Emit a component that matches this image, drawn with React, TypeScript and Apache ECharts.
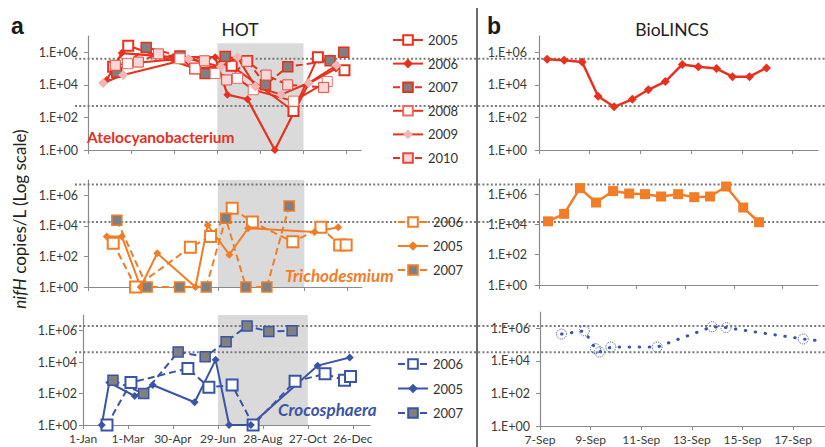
import React, { useEffect, useRef } from 'react';
import * as echarts from 'echarts';

// ---------- tick definitions ----------
const hotTickDays = [0, 60, 120, 180, 240, 300, 360];
const hotTickLabels = ['1-Jan', '1-Mar', '30-Apr', '29-Jun', '28-Aug', '27-Oct', '26-Dec'];
const bioTickDays = [0, 2, 4, 6, 8, 10];
const bioTickLabels = ['7-Sep', '9-Sep', '11-Sep', '13-Sep', '15-Sep', '17-Sep'];
const logTicks = [0, 2, 4, 6];
const logTickLabels = ['1.E+00', '1.E+02', '1.E+04', '1.E+06'];
const shadeDays = [180, 300];

// ---------- HOT: Atelocyanobacterium  [day of year, nifH copies/L] ----------
const ucyn2005 = [[35, 1.3e5], [56, 2.5e6], [149, 1e5], [200, 1.5e5], [286, 2.5e2], [320, 5e5], [357, 8e4]];
const ucyn2006 = [[26, 2e4], [47, 9e5], [118, 5e5], [177, 5e5], [194, 2.5e3], [222, 1.3e3], [260, 1], [307, 1.2e4], [345, 1e5]];
const ucyn2007 = [[40, 6e4], [81, 2e6], [128, 6e5], [163, 5e4], [191, 5.6e5], [222, 3e5], [247, 1e4], [278, 1.3e5], [337, 3e5], [356, 1e6]];
const ucyn2008 = [[55, 2e5], [128, 4e5], [149, 1e5], [177, 5e4], [208, 2.5e4], [230, 5e3], [286, 1e3], [333, 1.6e4]];
const ucyn2009 = [[21, 1.3e4], [49, 4e4], [140, 4e5], [185, 1.3e5], [208, 5e5], [233, 8e3], [269, 2.5e3], [307, 1.3e4], [346, 1.6e5]];
const ucyn2010 = [[38, 1.6e5], [70, 2.5e5], [98, 8e5], [162, 3e5], [193, 2e4], [221, 2.8e5], [248, 4e4], [278, 1e4], [328, 7e3]];

// ---------- HOT: Trichodesmium ----------
const tri2006 = [[35, 7.4e2], [66, 1], [142, 4e2], [170, 2e3], [200, 1.4e5], [228, 1.8e4], [284, 9e2], [323, 8e3], [349, 5.6e2], [358, 5.6e2]];
const tri2005 = [[26, 2e3], [47, 2e3], [73, 1], [96, 1.6e2], [149, 1], [166, 1.1e4], [196, 1.3e2], [222, 7e3], [314, 4e3], [347, 8e3]];
const tri2007 = [[40, 2.3e4], [82, 1], [127, 1], [164, 1], [191, 3.2e4], [219, 1], [248, 1], [279, 2e5]];

// ---------- HOT: Crocosphaera ----------
const cro2006 = [[32, 1], [64, 5e2], [140, 4e3], [168, 2.5e2], [199, 3.5e2], [227, 1], [283, 6e2], [323, 1.8e3], [349, 7e2], [357, 1.2e3]];
const cro2005 = [[25, 1], [35, 5e2], [69, 70], [93, 3.5e2], [149, 28], [177, 1.4e4], [195, 1], [224, 1], [313, 6e3], [356, 2e4]];
const cro2007 = [[40, 7e2], [81, 1e2], [127, 4.5e4], [163, 2.2e4], [191, 2e5], [219, 2e6], [248, 9e5], [279, 1e6]];

// ---------- BioLINCS [days after 7-Sep, nifH copies/L] ----------
const bioUcyn = [[0.32, 3.7e5], [0.99, 3.2e5], [1.7, 2.5e5], [2.33, 2e3], [2.96, 4.5e2], [3.68, 1.3e3], [4.31, 5e3], [4.98, 1.6e4], [5.65, 1.8e5], [6.28, 1.3e5], [7.0, 1e5], [7.63, 3.2e4], [8.3, 3.2e4], [8.97, 1.1e5]];
const bioTri = [[0.37, 1.6e4], [1.03, 5e4], [1.68, 2.5e6], [2.34, 2.8e5], [3.04, 1.6e6], [3.7, 1.1e6], [4.35, 1e6], [5.01, 7e5], [5.71, 1e6], [6.37, 6.3e5], [7.02, 7e5], [7.68, 3.2e6], [8.38, 1.3e5], [9.03, 1.4e4]];
const bioCro = [[0.85, 4.4e5], [1.75, 7e5], [2.19, 5.6e4], [2.35, 3.5e4], [2.8, 7e4], [4.63, 7e4], [6.8, 1.25e6], [7.35, 1.1e6], [10.4, 2.2e5]];
const bioCroTail = [[11.2, 1.6e5]];

// BioLINCS range (dotted reference lines) per row: [max, min]
const rowLimits = [[4e5, 5e2], [5e6, 1.8e4], [2e6, 4.3e4]];
const shadeTop = [6.55, 7, 7];

const RED = '#e8301f';
const ORANGE = '#f27d27';
const BLUE = '#3b54a6';
const GRAY = '#808080';
const AXIS = '#8a8a8a';
const SHADE = '#dadada';
const FONT = 'Lato, "Open Sans", sans-serif';

const toLog = (pts: number[][]) => pts.map(([d, v]) => [d, Math.log10(v)]);

function yAxis(gridIndex: number, margin: number) {
  return {
    type: 'value', gridIndex, min: 0, max: 7,
    axisLine: { show: true, lineStyle: { color: AXIS, width: 1.2 } },
    axisTick: { show: true, length: 4, customValues: logTicks, lineStyle: { color: AXIS } },
    axisLabel: {
      customValues: logTicks, margin, fontSize: 12.5, color: '#3a3a3a', fontFamily: FONT,
      formatter: (v: number) => logTickLabels[logTicks.indexOf(v)] ?? '',
    },
    splitLine: { show: false },
  };
}

function xAxis(gridIndex: number, max: number, ticks: number[], labels: string[], showLabels: boolean) {
  return {
    type: 'value', gridIndex, min: 0, max,
    axisLine: { show: true, lineStyle: { color: AXIS, width: 1.2 } },
    axisTick: { show: true, length: 4, customValues: ticks, lineStyle: { color: AXIS } },
    axisLabel: {
      show: showLabels, customValues: ticks, margin: 7, fontSize: 12, color: '#3a3a3a', fontFamily: FONT,
      formatter: (v: number) => labels[ticks.indexOf(v)] ?? '',
    },
    splitLine: { show: false },
  };
}

function ser(name: string, idx: number, pts: number[][], opts: any) {
  return {
    type: 'line', name, xAxisIndex: idx, yAxisIndex: idx, data: toLog(pts), clip: false, z: 3,
    ...opts,
  };
}

const solid = (color: string, width = 2) => ({ color, width, type: 'solid' });
const dashed = (color: string, width = 2) => ({ color, width, type: [7, 4] });

function shadeSeries(idx: number) {
  return {
    type: 'line', name: 'shade' + idx, xAxisIndex: idx, yAxisIndex: idx, data: [], z: 1, silent: true,
    markArea: {
      silent: true, itemStyle: { color: SHADE },
      data: [[{ xAxis: shadeDays[0], yAxis: 0 }, { xAxis: shadeDays[1], yAxis: shadeTop[idx] }]],
    },
  };
}

export default function App() {
  const ref = useRef<HTMLDivElement>(null);
  useEffect(() => {
    const chart = echarts.init(ref.current!, null, { renderer: 'svg' });
    const legendBase = {
      orient: 'vertical', itemWidth: 30, itemHeight: 12, padding: 0, selectedMode: false,
      formatter: (n: string) => n.slice(1),
      textStyle: { fontSize: 13, color: '#333', fontFamily: FONT },
    };
    const option: any = {
      animation: false,
      backgroundColor: '#fff',
      grid: [
        { left: 88, top: 36, width: 273, height: 114 },
        { left: 88, top: 180, width: 274, height: 107 },
        { left: 83, top: 315, width: 287, height: 110 },
        { left: 539, top: 36, width: 279, height: 114 },
        { left: 539, top: 179, width: 279, height: 106 },
        { left: 540, top: 312, width: 290, height: 114 },
      ],
      xAxis: [
        xAxis(0, 380, hotTickDays, hotTickLabels, false),
        xAxis(1, 380, hotTickDays, hotTickLabels, false),
        xAxis(2, 383, hotTickDays, hotTickLabels, true),
        xAxis(3, 11, bioTickDays, bioTickLabels, false),
        xAxis(4, 11.45, bioTickDays, bioTickLabels, false),
        xAxis(5, 11.26, bioTickDays, bioTickLabels, true),
      ],
      yAxis: [yAxis(0, 10), yAxis(1, 10), yAxis(2, 6), yAxis(3, 12), yAxis(4, 12), yAxis(5, 10)],
      legend: [
        { ...legendBase, left: 392, top: 33.5, itemGap: 10.6, data: ['A2005', 'A2006', 'A2007', 'A2008', 'A2009', 'A2010'] },
        { ...legendBase, left: 397, top: 215.5, itemGap: 11, data: ['T2006', 'T2005', 'T2007'] },
        { ...legendBase, left: 397, top: 357.5, itemGap: 11.5, data: ['C2006', 'C2005', 'C2007'] },
      ],
      series: [
        shadeSeries(0), shadeSeries(1), shadeSeries(2),
        ser('A2005', 0, ucyn2005, { symbol: 'rect', symbolSize: 10, itemStyle: { color: '#fff', borderColor: RED, borderWidth: 2 }, lineStyle: solid(RED) }),
        ser('A2006', 0, ucyn2006, { symbol: 'diamond', symbolSize: 8, itemStyle: { color: RED }, lineStyle: solid(RED, 2.2) }),
        ser('A2007', 0, ucyn2007, { symbol: 'rect', symbolSize: 10, itemStyle: { color: GRAY, borderColor: RED, borderWidth: 1.5 }, lineStyle: dashed(RED) }),
        ser('A2008', 0, ucyn2008, { symbol: 'rect', symbolSize: 10, itemStyle: { color: '#fff', borderColor: '#ef6b60', borderWidth: 1 }, lineStyle: solid(RED) }),
        ser('A2009', 0, ucyn2009, { symbol: 'diamond', symbolSize: 10, itemStyle: { color: '#f2b4b4' }, lineStyle: solid(RED) }),
        ser('A2010', 0, ucyn2010, { symbol: 'rect', symbolSize: 10, itemStyle: { color: '#fbd8d8', borderColor: '#e8473c', borderWidth: 1 }, lineStyle: dashed(RED) }),
        ser('T2006', 1, tri2006, { symbol: 'rect', symbolSize: 11, itemStyle: { color: '#fff', borderColor: ORANGE, borderWidth: 2 }, lineStyle: dashed(ORANGE) }),
        ser('T2005', 1, tri2005, { symbol: 'diamond', symbolSize: 8, itemStyle: { color: ORANGE }, lineStyle: solid(ORANGE) }),
        ser('T2007', 1, tri2007, { symbol: 'rect', symbolSize: 10, itemStyle: { color: GRAY, borderColor: ORANGE, borderWidth: 1.5 }, lineStyle: dashed(ORANGE) }),
        ser('C2006', 2, cro2006, { symbol: 'rect', symbolSize: 11, itemStyle: { color: '#fff', borderColor: BLUE, borderWidth: 2 }, lineStyle: dashed(BLUE) }),
        ser('C2005', 2, cro2005, { symbol: 'diamond', symbolSize: 8, itemStyle: { color: BLUE }, lineStyle: solid(BLUE) }),
        ser('C2007', 2, cro2007, { symbol: 'rect', symbolSize: 10, itemStyle: { color: GRAY, borderColor: BLUE, borderWidth: 1.5 }, lineStyle: dashed(BLUE) }),
        ser('B1', 3, bioUcyn, { symbol: 'diamond', symbolSize: 9, itemStyle: { color: RED }, lineStyle: solid(RED, 2.5) }),
        ser('B2', 4, bioTri, { symbol: 'rect', symbolSize: 10, itemStyle: { color: ORANGE }, lineStyle: solid(ORANGE, 2.5) }),
        {
          type: 'line', name: 'B3', xAxisIndex: 5, yAxisIndex: 5, clip: false, z: 3,
          data: [...toLog(bioCro), ...toLog(bioCroTail).map((p) => ({ value: p, symbol: 'none' }))],
          symbol: 'circle', symbolSize: 10,
          itemStyle: { color: 'rgba(255,255,255,0)', borderColor: BLUE, borderWidth: 1, borderType: 'dotted' },
          lineStyle: { color: BLUE, width: 3, type: [0.5, 9.5], cap: 'round' },
        },
      ],
    };
    chart.setOption(option);

    const lines: any[] = [];
    rowLimits.forEach((lims, row) => {
      lims.forEach((v) => {
        const y = chart.convertToPixel({ gridIndex: row } as any, [0, Math.log10(v)])[1];
        lines.push({
          type: 'line', z: 1.5, silent: true,
          shape: { x1: 75, y1: y, x2: 825, y2: y },
          style: { stroke: '#7a7a7a', lineWidth: 2, lineDash: [2, 2.2] },
        });
      });
    });
    const txt = (text: string, x: number, y: number, font: any, fill: string, align = 'left', extra: any = {}) => ({
      type: 'text', x, y, silent: true, z: 10,
      style: { text, fill, textAlign: align, textVerticalAlign: 'bottom', fontFamily: FONT, ...font },
      ...extra,
    });
    const graphics = [
      ...lines,
      { type: 'line', silent: true, shape: { x1: 477, y1: 8, x2: 477, y2: 447 }, style: { stroke: '#3a3a3a', lineWidth: 1.5 } },
      txt('a', 11, 37, { fontSize: 23, fontWeight: 'bold', fontFamily: '"Liberation Sans", Arial, sans-serif' }, '#1a1a1a'),
      txt('b', 487, 37, { fontSize: 23, fontWeight: 'bold', fontFamily: '"Liberation Sans", Arial, sans-serif' }, '#1a1a1a'),
      txt('HOT', 240, 38, { fontSize: 17.5 }, '#222', 'center'),
      txt('BioLINCS', 672, 38, { fontSize: 17.5 }, '#222', 'center'),
      txt('Atelocyanobacterium', 87, 145, { fontSize: 15.5, fontWeight: 'bold' }, RED),
      txt('Trichodesmium', 285, 284, { fontSize: 17, fontWeight: 'bold', fontStyle: 'italic' }, ORANGE),
      txt('Crocosphaera', 278, 418, { fontSize: 17, fontWeight: 'bold', fontStyle: 'italic' }, BLUE),
      {
        type: 'text', x: 19, y: 219, rotation: Math.PI / 2, silent: true, z: 10,
        style: {
          text: '{i|nifH} copies/L (Log scale)', fill: '#222', fontSize: 17, fontFamily: FONT,
          textAlign: 'center', textVerticalAlign: 'middle',
          rich: { i: { fontStyle: 'italic', fontSize: 17, fontFamily: FONT, fill: '#222' } },
        },
      },
    ];
    chart.setOption({ graphic: graphics });
    return () => chart.dispose();
  }, []);
  return <div ref={ref} style={{ position: 'absolute', left: 0, top: 0, width: 825, height: 447, background: '#fff' }} />;
}
